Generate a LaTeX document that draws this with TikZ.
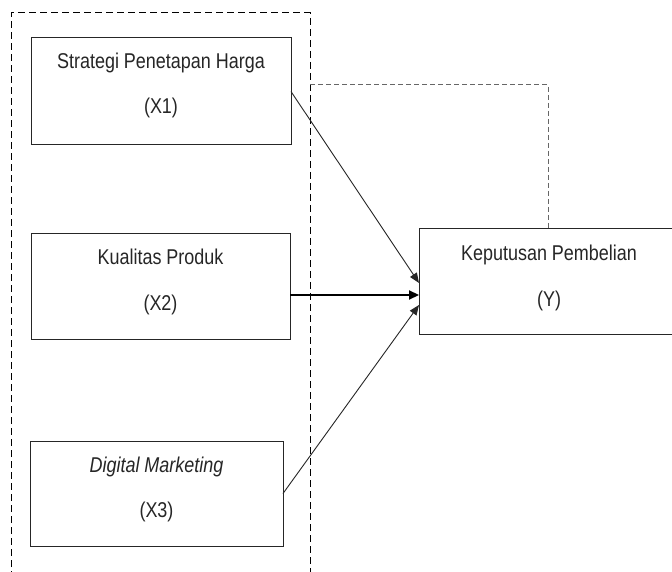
\documentclass[tikz,border=0pt]{standalone}
\usepackage{fontspec}
\setmainfont{Liberation Sans}[FakeStretch=0.84]
\usetikzlibrary{arrows.meta,calc}
\begin{document}
\begin{tikzpicture}[x=1pt,y=-1pt,
  box/.style={draw=black!85,line width=1pt,outer sep=0pt,inner sep=0pt,anchor=north west},
  lbl/.style={anchor=base,inner sep=0pt,font=\fontsize{21.4}{25}\selectfont,text=black!85},
  outerdash/.style={draw=black,line width=1pt,dash pattern=on 7pt off 4pt},
  graydash/.style={draw=black!60,line width=1pt,dash pattern=on 5pt off 3pt},
  arr/.style={draw=black!85,line width=0.9pt,-{Triangle[length=10pt,width=8pt]}},
  thickarr/.style={draw=black,line width=2.2pt,-{Triangle[length=10pt,width=9pt]}}]
\useasboundingbox (0,0) rectangle (672,572);
\clip (0,0) rectangle (672,572);
\fill[white] (0,0) rectangle (672,572);

% independent variables
\node[box,minimum width=260pt,minimum height=107pt] (x1) at (31,38) {};
\node[box,minimum width=259pt,minimum height=105pt] (x2) at (31,234) {};
\node[box,minimum width=253pt,minimum height=105pt] (x3) at (30,441) {};
% dependent variable
\node[box,minimum width=261pt,minimum height=105pt] (y) at (419,229) {};

\node[lbl] (t1a) at ($(x1.north)+(0,31)$) {Strategi Penetapan Harga};
\node[lbl] (t1b) at ($(x1.north)+(0,76)$) {(X1)};
\node[lbl] (t2a) at ($(x2.north)+(0,31)$) {Kualitas Produk};
\node[lbl] (t2b) at ($(x2.north)+(0,76)$) {(X2)};
\node[lbl] (t3a) at ($(x3.north)+(0,31)$) {\itshape Digital Marketing};
\node[lbl] (t3b) at ($(x3.north)+(0,76)$) {(X3)};
\node[lbl] (tya) at ($(y.north west)+(130,31)$) {Keputusan Pembelian};
\node[lbl] (tyb) at ($(y.north west)+(130,77)$) {(Y)};

% group of independent variables
\coordinate (gl) at (11,600);
\coordinate (gr) at (310,600);
\draw[outerdash] (gl) -- (11,13) -- (310,13) -- (gr);

% simultaneous effect
\coordinate (g0) at (310,85);
\draw[graydash] (g0) -| ($(y.north west)+(129,0)$);

% partial effects
\draw[arr] (x1.east) -- ($(y.north west)+(0,54)$);
\draw[thickarr] ($(x2.north east)+(0,61)$) -- ($(y.north west)+(0,66)$);
\draw[arr] (x3.east) -- ($(y.north west)+(0,76)$);
\end{tikzpicture}
\end{document}
